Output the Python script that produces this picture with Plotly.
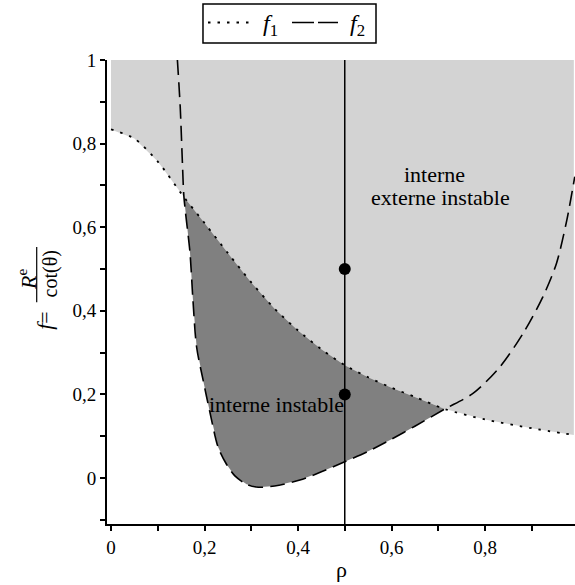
import numpy as np
import plotly.graph_objects as go

# ---- data ----
f1_x = [0.0, 0.05, 0.1, 0.156, 0.2, 0.25, 0.3, 0.35, 0.4, 0.45, 0.5, 0.55, 0.6, 0.65, 0.714, 0.8, 0.9, 0.99]
f1_y = [0.834, 0.812, 0.757, 0.672, 0.61, 0.538, 0.468, 0.405, 0.353, 0.308, 0.27, 0.241, 0.216, 0.194, 0.165, 0.14, 0.119, 0.103]

f2_x = [0.142, 0.148, 0.153, 0.156, 0.169, 0.175, 0.183, 0.197, 0.212, 0.229, 0.247, 0.265, 0.29, 0.315, 0.35,
        0.404, 0.45, 0.5, 0.55, 0.6, 0.65, 0.714, 0.775, 0.832, 0.882, 0.924, 0.953, 0.975, 0.992]
f2_y = [1.0, 0.888, 0.745, 0.672, 0.538, 0.43, 0.314, 0.234, 0.155, 0.074, 0.033, 0.005, -0.015, -0.022, -0.019,
        -0.005, 0.015, 0.039, 0.064, 0.093, 0.124, 0.165, 0.203, 0.266, 0.347, 0.434, 0.514, 0.617, 0.721]

rho_line = 0.5
points_x = [0.5, 0.5]
points_y = [0.5, 0.2]

X_RANGE = [-0.0086, 0.9925]
Y_RANGE = [-0.11, 1.0]
cross_lo, cross_hi = 0.156, 0.714   # intersections of f1 and f2

x_tickvals = [0.0, 0.1, 0.2, 0.3, 0.4, 0.5, 0.6, 0.7, 0.8, 0.9]
x_ticktext = ["0", "", "0,2", "", "0,4", "", "0,6", "", "0,8", ""]
y_tickvals = [-0.1, 0.0, 0.1, 0.2, 0.3, 0.4, 0.5, 0.6, 0.7, 0.8, 0.9, 1.0]
y_ticktext = ["", "0", "", "0,2", "", "0,4", "", "0,6", "", "0,8", "", "1"]

FONT = "Liberation Serif"
LIGHT = "#d3d3d3"
DARK = "#808080"
DOT = "2.5px,7px"
DASH = "15px,7px"

fig = go.Figure()

# light gray region above f1
lx = list(f1_x) + [f1_x[-1], f1_x[0]]
ly = list(f1_y) + [Y_RANGE[1], Y_RANGE[1]]
fig.add_trace(go.Scatter(x=lx, y=ly, fill="toself", fillcolor=LIGHT, mode="none",
                         showlegend=False, hoverinfo="skip"))

# dark region between f2 and f1 where f2 < f1
a1 = np.array(f1_x); b1 = np.array(f1_y)
a2 = np.array(f2_x); b2 = np.array(f2_y)
m1 = (a1 >= cross_lo) & (a1 <= cross_hi)
idx2 = np.arange(len(a2))
m2 = (idx2 >= list(a2).index(cross_lo)) & (idx2 <= list(a2).index(cross_hi))
dx = list(a1[m1]) + list(a2[m2][::-1])
dy = list(b1[m1]) + list(b2[m2][::-1])
fig.add_trace(go.Scatter(x=dx, y=dy, fill="toself", fillcolor=DARK, mode="none",
                         showlegend=False, hoverinfo="skip"))

# curves
fig.add_trace(go.Scatter(x=f1_x, y=f1_y, mode="lines", name="f1", showlegend=False,
                         line=dict(color="black", width=1.8, dash=DOT, shape="spline", smoothing=0.8)))
fig.add_trace(go.Scatter(x=f2_x, y=f2_y, mode="lines", name="f2", showlegend=False,
                         line=dict(color="black", width=1.6, dash=DASH, shape="spline", smoothing=0.8)))

# vertical line and points
fig.add_trace(go.Scatter(x=[rho_line, rho_line], y=Y_RANGE, mode="lines",
                         line=dict(color="black", width=1.5), showlegend=False, hoverinfo="skip"))
fig.add_trace(go.Scatter(x=points_x, y=points_y, mode="markers",
                         marker=dict(color="black", size=12), showlegend=False))

TXT = dict(family=FONT, size=22, color="black")

# region labels
fig.add_annotation(x=0.693, y=0.727, xref="x", yref="y", text="interne", showarrow=False,
                   font=TXT, xanchor="center", yanchor="middle")
fig.add_annotation(x=0.705, y=0.670, xref="x", yref="y", text="externe instable", showarrow=False,
                   font=TXT, xanchor="center", yanchor="middle")
fig.add_annotation(x=0.355, y=0.176, xref="x", yref="y", text="interne instable", showarrow=False,
                   font=TXT, xanchor="center", yanchor="middle")

# axis title rho
fig.add_annotation(x=0.5, y=-0.099, xref="paper", yref="paper", text="ρ", showarrow=False,
                   font=TXT, xanchor="center", yanchor="middle")

# y axis label pieces (rotated fraction)
fig.add_annotation(x=-0.1325, y=0.440, xref="paper", yref="paper", text="<i>f</i>=", textangle=-90,
                   showarrow=False, font=TXT, xanchor="center", yanchor="middle")
fig.add_annotation(x=-0.171, y=0.528, xref="paper", yref="paper", text="<i>R</i><sup>e</sup>", textangle=-90,
                   showarrow=False, font=TXT, xanchor="center", yanchor="middle")
fig.add_annotation(x=-0.1218, y=0.540, xref="paper", yref="paper", text="cot(θ)", textangle=-90,
                   showarrow=False, font=dict(family=FONT, size=20, color="black"),
                   xanchor="center", yanchor="middle")
fig.add_shape(type="line", xref="paper", yref="paper", x0=-0.1502, x1=-0.1502, y0=0.478, y1=0.597,
              line=dict(color="black", width=1.2))

# legend box (drawn by hand to match the reference layout)
fig.add_shape(type="rect", xref="paper", yref="paper", x0=0.2051, x1=0.5748, y0=1.0366, y1=1.1207,
              line=dict(color="black", width=1.5), fillcolor="white")
fig.add_shape(type="line", xref="paper", yref="paper", x0=0.2158, x1=0.3056, y0=1.0808, y1=1.0808,
              line=dict(color="black", width=1.8, dash=DOT))
fig.add_shape(type="line", xref="paper", yref="paper", x0=0.3953, x1=0.4936, y0=1.0808, y1=1.0808,
              line=dict(color="black", width=1.6, dash="22px,4px"))
fig.add_annotation(x=0.3504, y=1.0754, xref="paper", yref="paper", text="<i>f</i><sub>1</sub>",
                   showarrow=False, font=dict(family=FONT, size=24, color="black"),
                   xanchor="center", yanchor="middle")
fig.add_annotation(x=0.5363, y=1.0754, xref="paper", yref="paper", text="<i>f</i><sub>2</sub>",
                   showarrow=False, font=dict(family=FONT, size=24, color="black"),
                   xanchor="center", yanchor="middle")

axis_common = dict(showline=True, linecolor="black", linewidth=2, ticks="outside", ticklen=5,
                   tickwidth=1.5, tickcolor="black", showgrid=False, zeroline=False,
                   tickfont=dict(family=FONT, size=19, color="black"))
fig.update_xaxes(range=X_RANGE, tickmode="array", tickvals=x_tickvals, ticktext=x_ticktext, **axis_common)
fig.update_yaxes(range=Y_RANGE, tickmode="array", tickvals=y_tickvals, ticktext=y_ticktext, **axis_common)

fig.update_layout(
    width=575, height=585,
    margin=dict(l=107, r=0, t=60, b=61, autoexpand=False),
    plot_bgcolor="white", paper_bgcolor="white",
    font=dict(family=FONT, color="black"),
    showlegend=False,
)

fig.write_html("out.html", config={"displayModeBar": False},
               post_script="document.body.style.margin='0';document.body.style.overflow='hidden';")
